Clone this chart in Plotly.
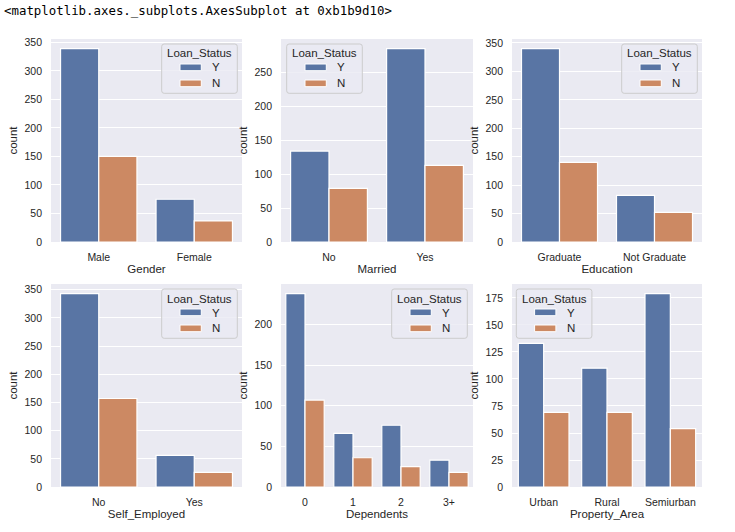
import plotly.graph_objects as go

hue_labels = ["Y", "N"]

gender_cats = ["Male", "Female"]
gender_y = [339, 75]
gender_n = [150, 37]

married_cats = ["No", "Yes"]
married_y = [134, 285]
married_n = [79, 113]

education_cats = ["Graduate", "Not Graduate"]
education_y = [340, 82]
education_n = [140, 52]

selfemp_cats = ["No", "Yes"]
selfemp_y = [343, 56]
selfemp_n = [157, 26]

dependents_cats = ["0", "1", "2", "3+"]
dependents_y = [238, 66, 76, 33]
dependents_n = [107, 36, 25, 18]

property_cats = ["Urban", "Rural", "Semiurban"]
property_y = [133, 110, 179]
property_n = [69, 69, 54]

x_titles = ["Gender", "Married", "Education", "Self_Employed", "Dependents", "Property_Area"]
legend_title = "Loan_Status"
title_text = "<matplotlib.axes._subplots.AxesSubplot at 0xb1b9d10>"

panels = [
    (gender_cats, gender_y, gender_n, list(range(0, 351, 50))),
    (married_cats, married_y, married_n, list(range(0, 251, 50))),
    (education_cats, education_y, education_n, list(range(0, 351, 50))),
    (selfemp_cats, selfemp_y, selfemp_n, list(range(0, 351, 50))),
    (dependents_cats, dependents_y, dependents_n, list(range(0, 201, 50))),
    (property_cats, property_y, property_n, list(range(0, 176, 25))),
]

W, H = 735, 532
xdom_px = [(51, 242), (281, 473), (512, 702)]
ydom_px = [(39, 242), (284, 487)]

# legend box left edge / top edge in px
LW, LH = 75.6, 49.3
legend_box = [
    (237.3 - LW, 44),
    (286.7, 44),
    (697.3 - LW, 44),
    (237.3 - LW, 289),
    (467.3 - LW, 289),
    (516.3, 289),
]

BLUE = "#5975a4"
ORANGE = "#cc8963"
TXT = "#262626"
FONT = "Liberation Sans, Arial, sans-serif"
colors = [BLUE, ORANGE]


def px(x):
    return x / W


def py(y):
    return 1 - y / H


fig = go.Figure()
layout = {}
shapes = []
annotations = []
for i, (cats, yv, nv, ticks) in enumerate(panels):
    k = i + 1
    xa = "x" if k == 1 else f"x{k}"
    ya = "y" if k == 1 else f"y{k}"
    for name, vals, col in [(hue_labels[0], yv, BLUE), (hue_labels[1], nv, ORANGE)]:
        fig.add_trace(go.Bar(
            x=cats, y=vals, name=name, xaxis=xa, yaxis=ya, showlegend=False,
            marker=dict(color=col, line=dict(color="white", width=1.2)),
            offsetgroup=name, hoverinfo="skip",
        ))
    r, c = divmod(i, 3)
    x0, x1 = xdom_px[c]
    y0, y1 = ydom_px[r]
    ymax = max(max(yv), max(nv)) * 1.05
    xkey = "xaxis" if k == 1 else f"xaxis{k}"
    ykey = "yaxis" if k == 1 else f"yaxis{k}"
    layout[xkey] = dict(
        domain=[px(x0), px(x1)], anchor=ya, type="category",
        range=[-0.5, len(cats) - 0.5], showgrid=False, zeroline=False,
        ticks="", tickfont=dict(size=10.5, color=TXT, family=FONT),
        ticklabelstandoff=7,
        title=dict(text=x_titles[i], font=dict(size=11.5, color=TXT, family=FONT), standoff=3),
        automargin=False, showline=False, fixedrange=True,
    )
    layout[ykey] = dict(
        domain=[py(y1), py(y0)], anchor=xa, range=[0, ymax],
        tickvals=ticks, showgrid=True, gridcolor="white", gridwidth=1,
        zeroline=False, ticks="", tickfont=dict(size=10.5, color=TXT, family=FONT),
        ticklabelstandoff=8,
        title=dict(text="count", font=dict(size=11.5, color=TXT, family=FONT), standoff=4),
        automargin=False, showline=False, fixedrange=True,
    )

    # legend box (matplotlib style, rounded)
    bl, bt = legend_box[i]
    br, bb = bl + LW, bt + LH
    rr = 2.5
    path = (
        f"M {px(bl + rr)},{py(bt)} L {px(br - rr)},{py(bt)} Q {px(br)},{py(bt)} {px(br)},{py(bt + rr)} "
        f"L {px(br)},{py(bb - rr)} Q {px(br)},{py(bb)} {px(br - rr)},{py(bb)} "
        f"L {px(bl + rr)},{py(bb)} Q {px(bl)},{py(bb)} {px(bl)},{py(bb - rr)} "
        f"L {px(bl)},{py(bt + rr)} Q {px(bl)},{py(bt)} {px(bl + rr)},{py(bt)} Z"
    )
    shapes.append(dict(type="path", xref="paper", yref="paper", path=path,
                       fillcolor="rgba(234,234,242,0.8)", line=dict(color="#cccccc", width=1),
                       layer="above"))
    annotations.append(dict(text=legend_title, xref="paper", yref="paper",
                            x=px(bl + LW / 2), y=py(bt + 9.5), xanchor="center", yanchor="middle",
                            showarrow=False, font=dict(size=11.5, color=TXT, family=FONT)))
    for j, lab in enumerate(hue_labels):
        top = bt + 20 + j * 16
        shapes.append(dict(type="rect", xref="paper", yref="paper",
                           x0=px(bl + 18.3), x1=px(bl + 39.6), y0=py(top + 6.7), y1=py(top),
                           fillcolor=colors[j], line=dict(color="white", width=1), layer="above"))
        annotations.append(dict(text=lab, xref="paper", yref="paper",
                                x=px(bl + 48.5), y=py(top + 3.5), xanchor="left", yanchor="middle",
                                showarrow=False, font=dict(size=11.5, color=TXT, family=FONT)))

annotations.append(dict(
    text=title_text, xref="paper", yref="paper", x=px(2), y=py(10),
    xanchor="left", yanchor="middle", showarrow=False,
    font=dict(size=12.4, color="#000000", family="DejaVu Sans Mono, monospace"),
))

fig.update_layout(
    width=W, height=H,
    margin=dict(l=0, r=0, t=0, b=0),
    paper_bgcolor="white", plot_bgcolor="#eaeaf2",
    barmode="group", bargap=0.2, bargroupgap=0,
    showlegend=False,
    shapes=shapes, annotations=annotations,
    **layout,
)

fig.write_html("out.html", config={"displayModeBar": False},
               post_script="document.body.style.margin='0';")
